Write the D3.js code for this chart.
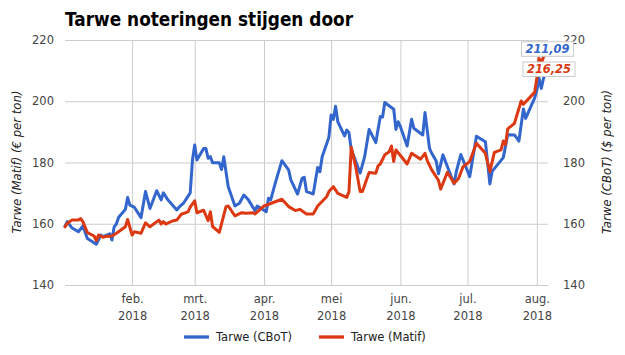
<!DOCTYPE html>
<html><head><meta charset="utf-8">
<script src="https://cdn.jsdelivr.net/npm/d3@7"></script>
<style>
body{margin:0;background:#fff}
svg{display:block}
text{font-family:"DejaVu Sans",sans-serif}
</style>
</head><body>
<svg id="chart" width="625" height="355"></svg>
<script>
const cbotDates = ["2018-01-02","2018-01-03","2018-01-05","2018-01-08","2018-01-10","2018-01-12","2018-01-16","2018-01-18","2018-01-19","2018-01-22","2018-01-23","2018-01-24","2018-01-25","2018-01-26","2018-01-29","2018-01-30","2018-01-31","2018-02-02","2018-02-05","2018-02-07","2018-02-09","2018-02-12","2018-02-14","2018-02-15","2018-02-17","2018-02-21","2018-02-22","2018-02-24","2018-02-27","2018-02-28","2018-03-01","2018-03-02","2018-03-05","2018-03-06","2018-03-07","2018-03-08","2018-03-09","2018-03-12","2018-03-13","2018-03-14","2018-03-16","2018-03-19","2018-03-21","2018-03-23","2018-03-25","2018-03-28","2018-03-29","2018-04-02","2018-04-03","2018-04-04","2018-04-06","2018-04-09","2018-04-12","2018-04-13","2018-04-16","2018-04-18","2018-04-19","2018-04-20","2018-04-22","2018-04-23","2018-04-25","2018-04-26","2018-04-27","2018-04-30","2018-05-01","2018-05-02","2018-05-03","2018-05-04","2018-05-07","2018-05-08","2018-05-09","2018-05-10","2018-05-14","2018-05-16","2018-05-18","2018-05-21","2018-05-23","2018-05-24","2018-05-25","2018-05-29","2018-05-30","2018-05-31","2018-06-01","2018-06-04","2018-06-06","2018-06-07","2018-06-11","2018-06-12","2018-06-14","2018-06-15","2018-06-17","2018-06-18","2018-06-20","2018-06-25","2018-06-26","2018-06-28","2018-06-29","2018-07-02","2018-07-05","2018-07-09","2018-07-11","2018-07-12","2018-07-17","2018-07-19","2018-07-22","2018-07-24","2018-07-26","2018-07-27","2018-07-31","2018-08-01","2018-08-02","2018-08-03","2018-08-04","2018-08-06"];
const cbotValues = [159.2,160.7,158.7,157.4,159.3,155.2,153.3,156.3,155.8,156.7,154.7,159.0,160.0,162.1,164.7,168.6,166.1,165.4,162.0,170.5,165.0,170.8,167.8,170.1,167.8,164.5,165.4,166.7,170.1,180.8,185.7,180.8,184.6,184.6,181.4,181.9,179.9,179.9,177.7,181.9,172.1,165.8,166.7,169.4,167.8,164.3,165.8,163.9,168.3,167.8,173.2,180.6,177.6,174.3,169.7,174.8,175.2,170.5,170.0,169.7,178.4,177.0,181.9,188.2,195.5,194.1,198.4,193.3,188.7,190.6,189.7,184.3,176.5,181.9,190.8,186.5,195.0,194.8,199.6,197.4,190.8,193.3,191.7,185.4,194.1,191.2,189.0,196.3,184.6,183.0,180.5,176.3,182.5,173.0,177.0,182.6,180.8,175.4,188.6,186.8,173.0,177.1,181.6,189.1,189.0,187.0,197.5,194.4,201.0,203.6,207.5,204.2,207.5,211.09];

const matifDates = ["2018-01-02","2018-01-03","2018-01-05","2018-01-08","2018-01-09","2018-01-10","2018-01-12","2018-01-15","2018-01-16","2018-01-17","2018-01-19","2018-01-20","2018-01-23","2018-01-25","2018-01-29","2018-01-30","2018-02-01","2018-02-02","2018-02-05","2018-02-07","2018-02-09","2018-02-13","2018-02-14","2018-02-15","2018-02-16","2018-02-19","2018-02-21","2018-02-23","2018-02-26","2018-02-27","2018-03-01","2018-03-02","2018-03-05","2018-03-07","2018-03-08","2018-03-09","2018-03-12","2018-03-15","2018-03-16","2018-03-19","2018-03-22","2018-03-24","2018-03-27","2018-03-28","2018-04-01","2018-04-09","2018-04-12","2018-04-15","2018-04-17","2018-04-20","2018-04-23","2018-04-25","2018-04-29","2018-04-30","2018-05-02","2018-05-04","2018-05-08","2018-05-09","2018-05-10","2018-05-12","2018-05-14","2018-05-15","2018-05-18","2018-05-21","2018-05-22","2018-05-23","2018-05-25","2018-05-27","2018-05-28","2018-05-29","2018-05-30","2018-06-02","2018-06-04","2018-06-06","2018-06-07","2018-06-10","2018-06-12","2018-06-13","2018-06-15","2018-06-18","2018-06-19","2018-06-22","2018-06-25","2018-06-27","2018-06-29","2018-07-02","2018-07-05","2018-07-09","2018-07-11","2018-07-13","2018-07-16","2018-07-17","2018-07-18","2018-07-19","2018-07-22","2018-07-25","2018-07-26","2018-07-31","2018-08-01","2018-08-02","2018-08-03","2018-08-04","2018-08-06"];
const matifValues = [159.0,160.1,161.2,161.2,161.7,160.7,157.1,156.0,154.5,156.3,155.6,155.8,156.0,156.9,159.0,161.4,156.3,157.4,156.9,160.3,159.0,161.2,159.9,160.7,159.9,160.9,161.2,163.1,163.9,165.4,167.5,163.6,164.4,161.0,163.9,159.1,157.2,165.6,165.8,162.6,163.6,163.4,163.6,163.2,165.8,168.0,165.6,164.3,164.7,163.2,163.2,165.8,168.8,170.5,172.1,169.9,168.6,170.5,185.0,178.6,170.5,170.5,176.7,176.5,178.9,179.5,182.5,183.5,185.4,180.3,184.1,181.4,179.5,183.0,182.5,181.1,183.0,180.6,177.6,174.2,171.3,176.8,173.2,174.8,178.6,180.3,186.3,183.0,177.0,183.3,184.1,187.0,185.9,191.0,192.8,200.1,199.0,202.9,207.5,214.0,212.3,214.5,216.25];

const yTicks = [140, 160, 180, 200, 220];
const monthTicks = ["2018-02-01","2018-03-01","2018-04-01","2018-05-01","2018-06-01","2018-07-01","2018-08-01"];
const monthLabels = ["feb.","mrt.","apr.","mei","jun.","jul.","aug."];
const yearLabel = "2018";
const seriesNames = ["Tarwe (CBoT)", "Tarwe (Matif)"];
const endLabels = ["211,09", "216,25"];
const colors = ["#3366cc", "#dc3912"];

const parse = d3.utcParse("%Y-%m-%d");
const cbot = cbotDates.map((d, i) => ({date: parse(d), value: cbotValues[i]}));
const matif = matifDates.map((d, i) => ({date: parse(d), value: matifValues[i]}));

const L = 65, R = 548, T = 40, B = 285;
const svg = d3.select("#chart");

const x = d3.scaleUtc().domain([parse("2018-01-02"), parse("2018-08-06")]).range([L, R]);
const y = d3.scaleLinear().domain([140, 220]).range([B, T]);

// title
svg.append("text").attr("x", 65).attr("y", 26)
  .attr("font-weight", "bold").attr("font-size", 19.5).attr("fill", "#000")
  .attr("textLength", 288).attr("lengthAdjust", "spacingAndGlyphs")
  .text("Tarwe noteringen stijgen door");

// vertical grid + bottom labels
const xAxis = svg.append("g").attr("transform", `translate(0,${B})`)
  .call(d3.axisBottom(x).tickValues(monthTicks.map(parse)).tickSize(-(B - T)).tickPadding(10)
    .tickFormat((d, i) => monthLabels[i]));
xAxis.select(".domain").remove();
xAxis.selectAll(".tick line").attr("stroke", "#cccccc");
xAxis.selectAll(".tick text").attr("font-family", "'DejaVu Sans',sans-serif").attr("font-size", 11.5).attr("fill", "#444")
  .each(function() {
    d3.select(this).append("tspan").attr("x", 0).attr("dy", "1.45em").text(yearLabel);
  });

// left axis + horizontal grid
const yAxisL = svg.append("g").attr("transform", `translate(${L},0)`)
  .call(d3.axisLeft(y).tickValues(yTicks).tickSize(-(R - L)).tickPadding(11));
yAxisL.select(".domain").remove();
yAxisL.selectAll(".tick line").attr("stroke", "#cccccc");
yAxisL.selectAll(".tick text").attr("font-family", "'DejaVu Sans',sans-serif").attr("font-size", 11.5).attr("fill", "#444");

// right axis
const yAxisR = svg.append("g").attr("transform", `translate(${R},0)`)
  .call(d3.axisRight(y).tickValues(yTicks).tickSize(0).tickPadding(15));
yAxisR.select(".domain").remove();
yAxisR.selectAll(".tick text").attr("font-family", "'DejaVu Sans',sans-serif").attr("font-size", 11.5).attr("fill", "#444");

// axis titles
svg.append("text").attr("transform", "translate(17,162) rotate(-90)")
  .attr("text-anchor", "middle").attr("dominant-baseline", "central")
  .attr("font-style", "italic").attr("font-size", 11.7).attr("fill", "#222")
  .text("Tarwe (Matif) (€ per ton)");
svg.append("text").attr("transform", "translate(607,162) rotate(-90)")
  .attr("text-anchor", "middle").attr("dominant-baseline", "central")
  .attr("font-style", "italic").attr("font-size", 11.7).attr("fill", "#222")
  .text("Tarwe (CBoT) ($ per ton)");

// lines
const line = d3.line().x(d => x(d.date)).y(d => y(d.value));
[cbot, matif].forEach((s, i) => {
  svg.append("path").datum(s).attr("d", line).attr("fill", "none")
    .attr("stroke", colors[i]).attr("stroke-width", 3)
    .attr("stroke-linejoin", "round").attr("stroke-linecap", "round");
});

// end annotations
const ends = [cbot[cbot.length - 1], matif[matif.length - 1]];
const boxTops = [y(ends[0].value) - 25.5, y(ends[1].value) + 10.5];
ends.forEach((e, i) => {
  const g = svg.append("g");
  const cx = x(e.date) - 0.5 + i * 1.5;
  g.append("rect").attr("x", cx - 26).attr("y", boxTops[i]).attr("width", 52).attr("height", 14.5)
    .attr("fill", "#fff").attr("stroke", "#cccccc").attr("stroke-width", 1);
  g.append("text").attr("x", cx).attr("y", boxTops[i] + 11.5)
    .attr("text-anchor", "middle").attr("font-weight", "bold").attr("font-style", "italic")
    .attr("font-size", 12.5).attr("fill", colors[i])
    .attr("textLength", 44).attr("lengthAdjust", "spacingAndGlyphs")
    .text(endLabels[i]);
});

// legend
const legX = [184, 319];
seriesNames.forEach((n, i) => {
  svg.append("line").attr("x1", legX[i]).attr("x2", legX[i] + 25).attr("y1", 337).attr("y2", 337)
    .attr("stroke", colors[i]).attr("stroke-width", 3.3);
  svg.append("text").attr("x", legX[i] + 32).attr("y", 341).attr("font-size", 11.5).attr("fill", "#222").text(n);
});
</script>
</body></html>
